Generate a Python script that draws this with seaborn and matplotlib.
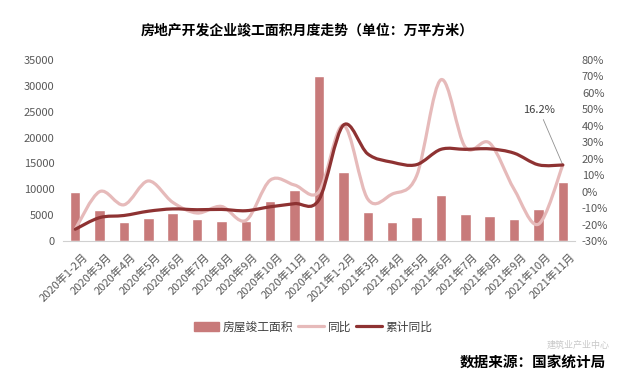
import matplotlib
matplotlib.use("Agg")
import matplotlib.pyplot as plt
import matplotlib.transforms as mtransforms
import seaborn as sns
import pandas as pd
import numpy as np
from matplotlib.path import Path
from matplotlib.patches import PathPatch, Patch
from matplotlib.lines import Line2D

categories = ["2020年1-2月", "2020年3月", "2020年4月", "2020年5月", "2020年6月", "2020年7月",
              "2020年8月", "2020年9月", "2020年10月", "2020年11月", "2020年12月",
              "2021年1-2月", "2021年3月", "2021年4月", "2021年5月", "2021年6月", "2021年7月",
              "2021年8月", "2021年9月", "2021年10月", "2021年11月"]
area = [9500, 5900, 3600, 4400, 5400, 4200, 3900, 3800, 7700, 9900, 32000,
        13400, 5600, 3600, 4600, 8800, 5300, 4800, 4200, 6200, 11400]
yoy = [-22.9, 0.0, -8.0, 6.5, -6.5, -13.0, -9.0, -17.5, 7.0, 4.0, 0.0,
       40.4, -4.5, -1.5, 9.5, 68.0, 27.0, 29.5, 1.5, -19.8, 16.2]
cum_yoy = [-22.9, -15.8, -14.5, -11.9, -10.5, -11.0, -10.8, -11.6, -9.2, -7.3, -4.9,
           40.4, 22.9, 17.9, 16.4, 25.7, 25.7, 26.0, 23.4, 16.3, 16.2]
left_ticks = [0, 5000, 10000, 15000, 20000, 25000, 30000, 35000]
right_ticks = [-30, -20, -10, 0, 10, 20, 30, 40, 50, 60, 70, 80]

sns.set_theme(style="white")
plt.rcParams['font.family'] = ['Noto Sans CJK SC', 'DejaVu Sans']

BAR = "#C87A7A"
LIGHT = "#E6BABA"
DARK = "#8E3232"
GRAY = "#595959"

fig = plt.figure(figsize=(6.39, 3.78), dpi=100)
ax = fig.add_axes([63/639, 1-241/378, (575-63)/639, (241-60)/378])

df = pd.DataFrame({"cat": categories, "area": area})
sns.barplot(data=df, x="cat", y="area", color=BAR, width=0.43, ax=ax, saturation=1)
ax.set_xlim(-0.5, len(categories)-0.5)
ax.set_ylim(0, 35000)
ax.set_yticks(left_ticks)
ax.set_yticklabels([str(t) for t in left_ticks])
ax.set_xlabel("")
ax.set_ylabel("")
for s in ["top", "right", "left"]:
    ax.spines[s].set_visible(False)
ax.spines["bottom"].set_color("#d0d0d0")
ax.spines["bottom"].set_linewidth(0.8)
ax.tick_params(axis="y", length=0, pad=6, labelsize=8, labelcolor=GRAY)
ax.set_xticks(np.arange(len(categories)))
ax.set_xticklabels(categories, rotation=45, ha="right", rotation_mode="anchor",
                   fontsize=8, color=GRAY)
ax.tick_params(axis="x", length=0, pad=4)
offset = mtransforms.ScaledTranslation(0.07, -0.05, fig.dpi_scale_trans)
for lab in ax.get_xticklabels():
    lab.set_transform(lab.get_transform() + offset)
# category boundary ticks
ax.set_xticks(np.arange(-0.5, len(categories), 1.0), minor=True)
ax.tick_params(axis="x", which="minor", length=4, color="#d0d0d0", width=0.8, direction="out")

ax2 = ax.twinx()
ax2.set_ylim(-30, 80)
ax2.set_yticks(right_ticks)
ax2.set_yticklabels([f"{t}%" for t in right_ticks])
ax2.tick_params(axis="y", length=0, pad=5, labelsize=8, labelcolor=GRAY)
for s in ["top", "right", "left", "bottom"]:
    ax2.spines[s].set_visible(False)
ax2.grid(False)
ax.grid(False)


def smooth_path(xs, ys):
    pts = np.column_stack([xs, ys]).astype(float)
    n = len(pts)
    verts = [pts[0]]
    codes = [Path.MOVETO]
    for i in range(n - 1):
        p0 = pts[i - 1] if i > 0 else pts[i]
        p1 = pts[i]
        p2 = pts[i + 1]
        p3 = pts[i + 2] if i + 2 < n else pts[i + 1]
        c1 = p1 + (p2 - p0) / 6.0
        c2 = p2 - (p3 - p1) / 6.0
        verts += [c1, c2, p2]
        codes += [Path.CURVE4] * 3
    return Path(verts, codes)


xs = np.arange(len(categories))
ax2.add_patch(PathPatch(smooth_path(xs, yoy), fill=False, edgecolor=LIGHT, lw=2.3,
                        capstyle="round", joinstyle="round", zorder=3))
ax2.add_patch(PathPatch(smooth_path(xs, cum_yoy), fill=False, edgecolor=DARK, lw=2.3,
                        capstyle="round", joinstyle="round", zorder=4))

ax2.annotate(f"{cum_yoy[-1]}%", xy=(xs[-1], cum_yoy[-1]), xytext=(-17, 36),
             textcoords="offset points", ha="center", va="bottom", fontsize=8,
             color="#404040",
             arrowprops=dict(arrowstyle="-", color="#909090", lw=0.6,
                             shrinkA=1, shrinkB=0))

fig.text(307/639, 1-30/378, "房地产开发企业竣工面积月度走势（单位：万平方米）",
         ha="center", va="center", fontsize=10, fontweight="bold", color="black")

handles = [Patch(facecolor=BAR, edgecolor=BAR),
           Line2D([0], [0], color=LIGHT, lw=2.3),
           Line2D([0], [0], color=DARK, lw=2.3)]
fig.legend(handles, ["房屋竣工面积", "同比", "累计同比"], ncol=3, frameon=False,
           loc="center", bbox_to_anchor=(313/639, 1-327/378), fontsize=8.5,
           handlelength=2.2, handletextpad=0.3, columnspacing=0.4,
           labelcolor="#404040")

fig.text(578/639, 1-345/378, "建筑业产业中心", ha="center", va="center",
         fontsize=6.5, color="#c8c8c8")
fig.text(606/639, 1-363/378, "数据来源：国家统计局", ha="right", va="center",
         fontsize=10.5, fontweight="bold", color="black")

fig.savefig("out.png", dpi=100, facecolor="white")
